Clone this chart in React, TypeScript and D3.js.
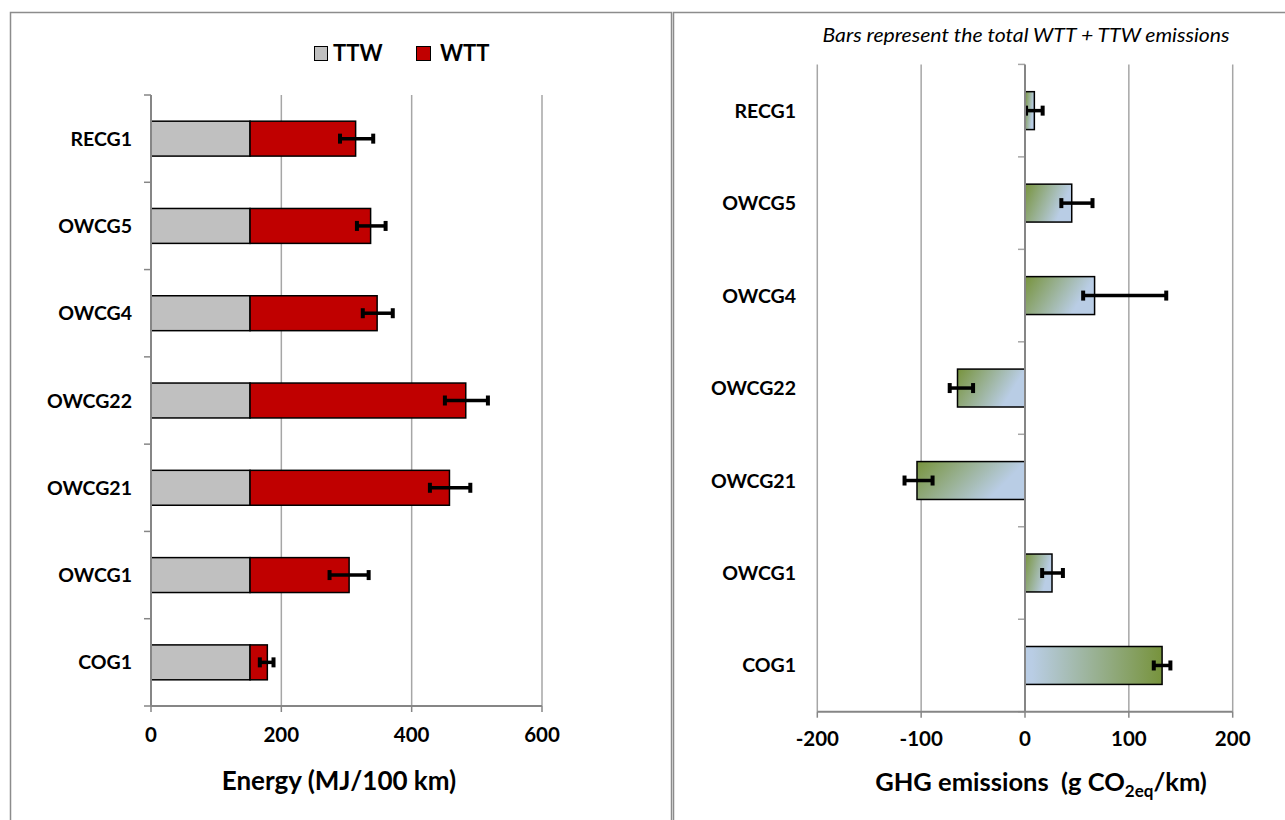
import * as d3 from 'd3';

// categories, top to bottom
const categories = ['RECG1', 'OWCG5', 'OWCG4', 'OWCG22', 'OWCG21', 'OWCG1', 'COG1'];

// left panel: energy (MJ/100 km)
const ttw = [152, 152, 152, 152, 152, 152, 152];
const wtt = [162, 185, 195, 331, 306, 152, 26.5];
const energyErrLow = [290, 316, 325, 451, 428, 274, 167];
const energyErrHigh = [341, 360, 371, 517, 490, 334, 188];
const energyTicks = [0, 200, 400, 600];

// right panel: GHG emissions (g CO2eq/km)
const ghg = [9, 45, 67, -65, -104, 26, 132];
const ghgErrLow = [1, 35, 56, -72.5, -116, 16.5, 124];
const ghgErrHigh = [17, 65, 136, -50, -89, 36.5, 140];
const ghgTicks = [-200, -100, 0, 100, 200];

const FONT = 'Lato, "Open Sans", sans-serif';
const GRID = '#a6a6a6';
const AXIS = '#868686';

function ErrorBar({ x1, x2, y }: { x1: number; x2: number; y: number }) {
  return (
    <g stroke="#000" strokeWidth={3.5}>
      <line x1={x1} x2={x2} y1={y} y2={y} />
      <line x1={x1} x2={x1} y1={y - 5} y2={y + 5} strokeWidth={4} />
      <line x1={x2} x2={x2} y1={y - 5} y2={y + 5} strokeWidth={4} />
    </g>
  );
}

function EnergyPanel() {
  const x = d3.scaleLinear().domain([0, 600]).range([151, 542]);
  const y = d3.scaleBand<string>().domain(categories).range([95, 706]);
  const bh = y.bandwidth() * 0.4;
  const [y0, y1] = y.range();

  return (
    <g>
      {/* grid */}
      {energyTicks.slice(1).map((t) => (
        <line key={t} x1={x(t)} x2={x(t)} y1={y0} y2={y1} stroke={GRID} strokeWidth={1.5} />
      ))}
      {/* category ticks */}
      {[...categories.map((c) => y(c)!), y1].map((v, i) => (
        <line key={i} x1={x(0) - 7} x2={x(0)} y1={v} y2={v} stroke={AXIS} strokeWidth={1.5} />
      ))}
      {/* bars */}
      {categories.map((c, i) => {
        const cy = y(c)! + y.bandwidth() / 2;
        return (
          <g key={c}>
            <rect x={x(0)} y={cy - bh / 2} width={x(ttw[i]) - x(0)} height={bh}
              fill="#c0c0c0" stroke="#000" strokeWidth={1.5} />
            <rect x={x(ttw[i])} y={cy - bh / 2} width={x(ttw[i] + wtt[i]) - x(ttw[i])} height={bh}
              fill="#c00000" stroke="#000" strokeWidth={1.5} />
            <ErrorBar x1={x(energyErrLow[i])} x2={x(energyErrHigh[i])} y={cy} />
            <text x={132} y={cy} dy="0.36em" textAnchor="end" fontSize={19.5} fontWeight="bold">{c}</text>
          </g>
        );
      })}
      {/* axes */}
      <line x1={x(0)} x2={x(0)} y1={y0} y2={y1} stroke={AXIS} strokeWidth={2} />
      <line x1={x(0)} x2={x(600)} y1={y1} y2={y1} stroke={AXIS} strokeWidth={2} />
      {energyTicks.map((t) => (
        <g key={t}>
          <line x1={x(t)} x2={x(t)} y1={y1} y2={y1 + 6} stroke={AXIS} strokeWidth={1.5} />
          <text x={x(t)} y={742} textAnchor="middle" fontSize={20.5} fontWeight="bold">{t}</text>
        </g>
      ))}
      <text x={339} y={790} textAnchor="middle" fontSize={26} fontWeight="bold">Energy (MJ/100 km)</text>
      {/* legend */}
      <rect x={314.5} y={46.5} width={13} height={14} fill="#c0c0c0" stroke="#000" strokeWidth={1} />
      <text x={333} y={61} fontSize={22} fontWeight="bold">TTW</text>
      <rect x={416.5} y={46.5} width={14} height={14} fill="#c00000" stroke="#000" strokeWidth={1} />
      <text x={440} y={61} fontSize={22} fontWeight="bold">WTT</text>
    </g>
  );
}

function GhgPanel() {
  const x = d3.scaleLinear().domain([-200, 200]).range([817.3, 1232.7]);
  const y = d3.scaleBand<string>().domain(categories).range([64.4, 711.7]);
  const bh = y.bandwidth() * 0.41;
  const [y0, y1] = y.range();

  return (
    <g>
      <defs>
        <linearGradient id="gb" x1="0" y1="0" x2="1" y2="0.35">
          <stop offset="0" stopColor="#77933c" />
          <stop offset="0.9" stopColor="#b9cde5" />
        </linearGradient>
        <linearGradient id="bg" x1="0" y1="0" x2="1" y2="0">
          <stop offset="0.05" stopColor="#b9cde5" />
          <stop offset="1" stopColor="#77933c" />
        </linearGradient>
      </defs>
      {ghgTicks.filter((t) => t !== 0).map((t) => (
        <line key={t} x1={x(t)} x2={x(t)} y1={y0} y2={y1} stroke={GRID} strokeWidth={1.5} />
      ))}
      {[...categories.map((c) => y(c)!), y1].map((v, i) => (
        <line key={i} x1={x(0) - 7} x2={x(0)} y1={v} y2={v} stroke={GRID} strokeWidth={1.5} />
      ))}
      {categories.map((c, i) => {
        const cy = y(c)! + y.bandwidth() / 2;
        const left = Math.min(x(0), x(ghg[i]));
        const w = Math.abs(x(ghg[i]) - x(0));
        return (
          <g key={c}>
            <rect x={left} y={cy - bh / 2} width={w} height={bh}
              fill={c === 'COG1' ? 'url(#bg)' : 'url(#gb)'} stroke="#000" strokeWidth={1.5} />
            <ErrorBar x1={x(ghgErrLow[i])} x2={x(ghgErrHigh[i])} y={cy} />
            <text x={796} y={cy} dy="0.36em" textAnchor="end" fontSize={19.5} fontWeight="bold">{c}</text>
          </g>
        );
      })}
      <line x1={x(0)} x2={x(0)} y1={y0} y2={y1} stroke={AXIS} strokeWidth={2} />
      <line x1={x(-200)} x2={x(200)} y1={y1} y2={y1} stroke={AXIS} strokeWidth={2} />
      {ghgTicks.map((t) => (
        <g key={t}>
          <line x1={x(t)} x2={x(t)} y1={y1} y2={y1 + 6} stroke={AXIS} strokeWidth={1.5} />
          <text x={x(t)} y={746} textAnchor="middle" fontSize={20.5} fontWeight="bold">{t}</text>
        </g>
      ))}
      <text x={1041} y={791} textAnchor="middle" fontSize={25.5} fontWeight="bold">
        GHG emissions{'\u00a0\u00a0'}(g CO<tspan fontSize={17} dy={6}>2eq</tspan><tspan dy={-6}>/km)</tspan>
      </text>
      <text x={1026} y={42} textAnchor="middle" fontSize={20} fontStyle="italic"
        textLength={407} lengthAdjust="spacingAndGlyphs">
        Bars represent the total WTT + TTW emissions
      </text>
    </g>
  );
}

export default function App() {
  return (
    <svg width={1285} height={820} style={{ position: 'absolute', left: 0, top: 0, background: '#fff' }}
      fontFamily={FONT}>
      <rect x={0} y={0} width={1285} height={820} fill="#fff" />
      <rect x={10.5} y={12.5} width={661} height={830} fill="none" stroke="#8c8c8c" strokeWidth={1.5} />
      <rect x={673.5} y={12.5} width={630} height={830} fill="none" stroke="#8c8c8c" strokeWidth={1.5} />
      <EnergyPanel />
      <GhgPanel />
    </svg>
  );
}
